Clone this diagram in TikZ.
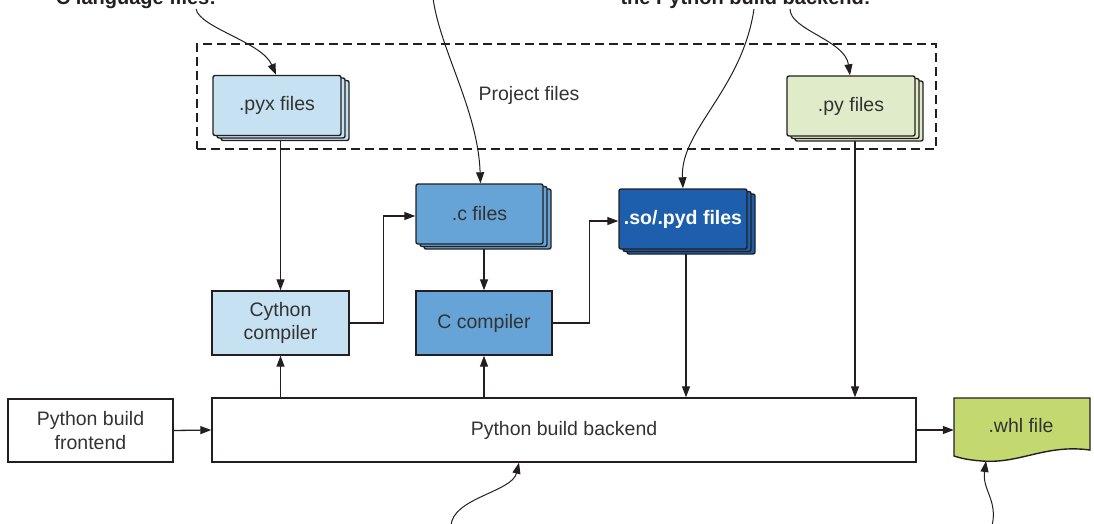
\documentclass[tikz,border=0pt]{standalone}
\usepackage{fontspec}
\setmainfont{Liberation Sans}
\usetikzlibrary{arrows.meta,shadows,backgrounds}
\definecolor{txt}{HTML}{333333}
\definecolor{ln}{HTML}{231F20}
\definecolor{lblue}{HTML}{C6E1F1}
\definecolor{mblue}{HTML}{66A3D6}
\definecolor{dblue}{HTML}{1D5FAC}
\definecolor{lgreen}{HTML}{DFEBC9}
\definecolor{whlgreen}{HTML}{C3D970}
\begin{document}
\begin{tikzpicture}[x=1pt,y=-1pt,
  font=\fontsize{19.5}{23.5}\selectfont, text=txt,
  box/.style={draw=ln, line width=1.4pt, inner sep=0pt, align=center},
  stackbox/.style={box, rounded corners=2pt,
    copy shadow={shadow xshift=8pt, shadow yshift=-5pt, fill=#1, draw=ln, opacity=1, line width=1.4pt},
    copy shadow={shadow xshift=4pt, shadow yshift=-2.5pt, fill=#1, draw=ln, opacity=1, line width=1.4pt},
    fill=#1, minimum width=128pt, minimum height=60pt},
  arr/.style={draw=ln, line width=1.3pt, -{Triangle[length=11pt,width=8pt]}},
  carr/.style={draw=ln, line width=1pt, -{Triangle[length=11pt,width=8pt]}},
  callout/.style={font=\bfseries\fontsize{20}{24}\selectfont, text=ln, anchor=base, inner sep=0pt}
]
\useasboundingbox (0,0) rectangle (1094,524);
\clip (0,0) rectangle (1094,524);

% callout texts (cut by the top edge)
\node[callout] (t1) at (136,4.5) {C language files:};
\node[callout] (t2) at (745.5,4.5) {the Python build backend:};

% project area
\node[draw=ln, line width=1.1pt, dash pattern=on 9pt off 5pt, minimum width=739pt, minimum height=105pt, inner sep=0pt] (proj) at (566.5,96.5) {};
\node (projlbl) at (529,95) {Project files};

% stacked files
\node[stackbox=lblue] (pyx) at (277,105.5) {.pyx files};
\node[stackbox=lgreen] (py) at (851,106) {.py files};
\node[stackbox=mblue, minimum width=127pt] (cf) at (479.5,214) {.c files};
\node[stackbox=dblue, text=white, font=\bfseries\fontsize{19.5}{23.5}\selectfont] (so) at (683,219) {.so/.pyd files};

% compilers
\node[box, fill=lblue, minimum width=137pt, minimum height=64pt] (cython) at (280.5,323) {Cython\\compiler};
\node[box, fill=mblue, minimum width=136pt, minimum height=64pt] (ccomp) at (484,323) {C compiler};

% frontend / backend
\node[box, minimum width=165pt, minimum height=63pt] (front) at (90.5,430.5) {Python build\\frontend};
\node[box, minimum width=704pt, minimum height=64pt] (back) at (564,430) {Python build backend};

% wheel
\path[draw=ln, line width=1.4pt, fill=whlgreen]
  (954,398) -- (1090,398) -- (1090,450)
  .. controls (1045,444) and (1020,464) .. (982,461)
  .. controls (968,460) and (960,458) .. (954,456) -- cycle;
\node[inner sep=0pt, minimum width=136pt, minimum height=62pt] (whl) at (1022,429) {};
\node (whllbl) at (1021,426) {.whl file};

% connectors
\begin{pgfonlayer}{background}
\draw[arr] (cython.north |- pyx.south) -- (cython.north);
\draw[arr] (back.north -| cython.south) -- (cython.south);
\draw[arr] (back.north -| ccomp.south) -- (ccomp.south);
\draw[arr] (ccomp.north |- cf.south) -- (ccomp.north);
\draw[arr] (cython.east) -- ++(34,0) |- ([yshift=-2pt]cf.west);
\draw[arr] (ccomp.east) -- ++(37,0) |- ([yshift=-2pt]so.west);
\draw[arr] ([xshift=3pt]so.south) -- ([xshift=3pt]so.south |- back.north);
\draw[arr] ([xshift=4pt]py.south) -- ([xshift=4pt]py.south |- back.north);
\draw[arr] (front.east) -- (back.west);
\draw[arr] (back.east) -- (back.east -| whl.west);
\end{pgfonlayer}

% callout arrows
\coordinate (c1) at (196,9);
\coordinate (c2) at (433,-2);
\coordinate (c3) at (754,9);
\coordinate (c4) at (790,9);
\coordinate (c5) at (451,526);
\coordinate (c6) at (992,526);
\coordinate (w6) at (986,461);
\draw[carr] (c1) .. controls (200,28) and (262,42) .. ([xshift=-1pt]pyx.north);
\draw[carr] (c2) .. controls (440,50) and (478,110) .. ([xshift=1pt]cf.north);
\draw[carr] (c3) .. controls (742,90) and (680,130) .. (so.north);
\draw[carr] (c4) .. controls (790,30) and (845,40) .. ([xshift=-1pt]py.north);
\draw[carr] (c5) .. controls (452,498) and (512,492) .. ([xshift=-45pt]back.south);
\draw[carr] (c6) .. controls (998,500) and (982,490) .. (w6);
\end{tikzpicture}
\end{document}
